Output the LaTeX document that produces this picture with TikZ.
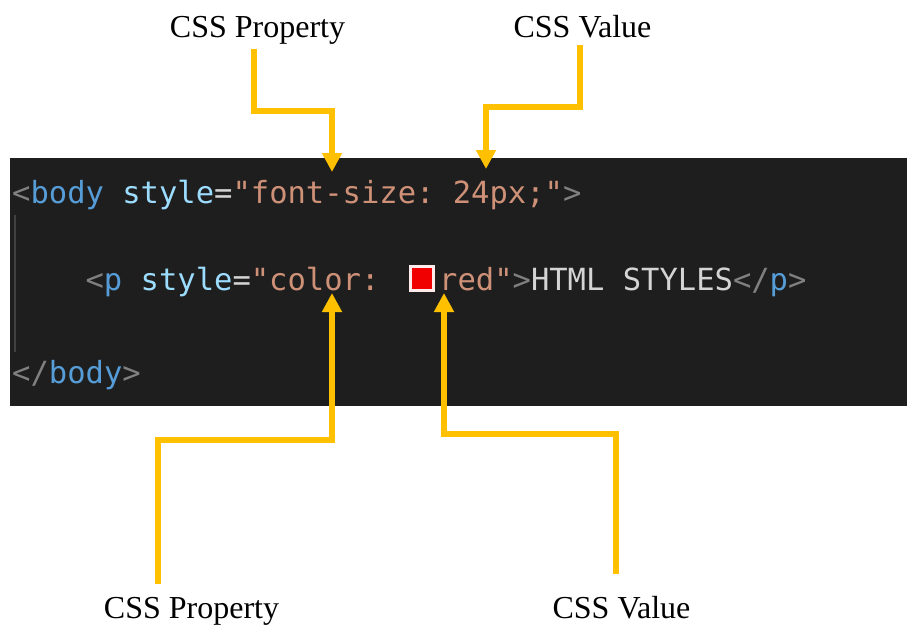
\documentclass[tikz,border=0pt]{standalone}
\usepackage{fontspec}
\setmainfont{Liberation Serif}
\setmonofont{DejaVu Sans Mono}
\usetikzlibrary{arrows.meta}

\definecolor{editorbg}{HTML}{1E1E1E}
\definecolor{punct}{HTML}{808080}
\definecolor{tagname}{HTML}{569CD6}
\definecolor{attrname}{HTML}{9CDCFE}
\definecolor{strval}{HTML}{CE9178}
\definecolor{plain}{HTML}{D4D4D4}
\definecolor{guideline}{HTML}{404040}
\definecolor{pointer}{HTML}{FFC000}
\definecolor{swatchred}{HTML}{F00000}

\tikzset{
  label/.style={font=\fontsize{32}{38}\selectfont, text=black, inner sep=0pt, anchor=base},
  codeline/.style={font=\ttfamily\fontsize{30.5}{36}\selectfont, text=plain, inner sep=0pt, anchor=base west},
  pointerline/.style={draw=pointer, line width=6pt,
    -{Triangle[width=19pt,length=19pt]}},
  guide/.style={draw=guideline, line width=2pt},
}

\newcommand{\pu}[1]{\textcolor{punct}{#1}}
\newcommand{\tg}[1]{\textcolor{tagname}{#1}}
\newcommand{\at}[1]{\textcolor{attrname}{#1}}
\newcommand{\sv}[1]{\textcolor{strval}{#1}}

\begin{document}
\begin{tikzpicture}[x=1pt, y=-1pt]
  \useasboundingbox (0,0) rectangle (907,624);

  % editor panel
  \fill[editorbg] (10,158) rectangle (907,406);
  \draw[guide] (15,215) -- (15,352);

  % code lines
  \node[codeline] (l1) at (12,203)
    {\pu{<}\tg{body} \at{style}=\sv{"font-size: 24px;"}\pu{>}};
  \node[codeline] (l2a) at (85.4,290)
    {\pu{<}\tg{p} \at{style}=\sv{"color: }};
  \node[draw=white!92!red, line width=3pt, fill=swatchred,
        minimum width=23pt, minimum height=24pt, inner sep=0pt]
    (sw) at (422,278.5) {};
  \node[codeline] (l2b) at (439,290)
    {\sv{red"}\pu{>}HTML STYLES\pu{</}\tg{p}\pu{>}};
  \node[codeline] (l3) at (12,383)
    {\pu{</}\tg{body}\pu{>}};

  % labels
  \node[label] (propTop) at (257.5,37) {CSS Property};
  \node[label] (valTop) at (582.5,37) {CSS Value};
  \node[label] (propBot) at (191.5,618) {CSS Property};
  \node[label] (valBot) at (621.5,618) {CSS Value};

  % pointer path coordinates
  \coordinate (pt0) at (254,49);
  \coordinate (pt1) at (254,111);
  \coordinate (pt2) at (332,111);
  \coordinate (ptTip) at (332,172);

  \coordinate (vt0) at (580,45);
  \coordinate (vt1) at (580,107);
  \coordinate (vt2) at (486,107);
  \coordinate (vtTip) at (486,169);

  \coordinate (pb0) at (158,584);
  \coordinate (pb1) at (158,439.5);
  \coordinate (pb2) at (332,439.5);
  \coordinate (pbTip) at (332,293);

  \coordinate (vb0) at (616,574);
  \coordinate (vb1) at (616,434);
  \coordinate (vb2) at (444,434);
  \coordinate (vbTip) at (444,293);

  % pointers
  \draw[pointerline] (pt0) -- (pt1) -- (pt2) -- (ptTip);
  \draw[pointerline] (vt0) -- (vt1) -- (vt2) -- (vtTip);
  \draw[pointerline] (pb0) -- (pb1) -- (pb2) -- (pbTip);
  \draw[pointerline] (vb0) -- (vb1) -- (vb2) -- (vbTip);
\end{tikzpicture}
\end{document}
